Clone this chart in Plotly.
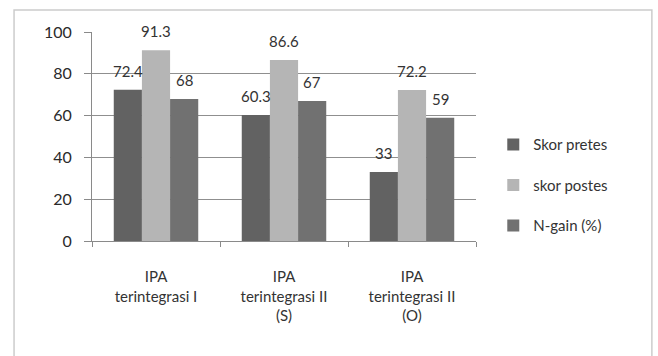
import plotly.graph_objects as go

categories = ["IPA<br>terintegrasi I", "IPA<br>terintegrasi II<br>(S)", "IPA<br>terintegrasi II<br>(O)"]
series_names = ["Skor pretes", "skor postes", "N-gain (%)"]
skor_pretes = [72.4, 60.3, 33]
skor_postes = [91.3, 86.6, 72.2]
n_gain = [68, 67, 59]
label_text = [["72.4", "60.3", "33"], ["91.3", "86.6", "72.2"], ["68", "67", "59"]]
y_ticks = [0, 20, 40, 60, 80, 100]

colors = ["#626262", "#b5b5b5", "#717171"]
series = [skor_pretes, skor_postes, n_gain]
FONT = "Lato"

fig = go.Figure()
for k, (name, vals) in enumerate(zip(series_names, series)):
    fig.add_trace(go.Bar(
        x=categories, y=vals, name=name,
        marker=dict(color=colors[k], line=dict(width=0)),
        legendgroup=name,
    ))

bargap = 0.34
bw = (1 - bargap) / 3
annotations = []
for k in range(3):
    off = (k - 1) * bw
    for i, v in enumerate(series[k]):
        annotations.append(dict(
            x=i + off, y=v, xref="x", yref="y", text=label_text[k][i],
            showarrow=False, yshift=19, font=dict(family=FONT, size=15, color="#333333"),
        ))

fig.update_layout(
    width=658, height=356,
    margin=dict(l=92, r=182, t=32, b=115),
    paper_bgcolor="white", plot_bgcolor="white",
    barmode="group", bargap=bargap, bargroupgap=0,
    font=dict(family=FONT, size=15, color="#333333"),
    showlegend=True,
    legend=dict(x=1.045, xanchor="left", y=0.54, yanchor="top",
                font=dict(family=FONT, size=15, color="#333333"),
                tracegroupgap=18, itemwidth=30, bgcolor="rgba(0,0,0,0)"),
    annotations=annotations,
    shapes=[dict(type="rect", xref="paper", yref="paper",
                 x0=-0.203, x1=1.458, y0=-0.65, y1=1.105,
                 line=dict(color="#cccccc", width=1.5))],
)
fig.update_xaxes(
    showline=True, linecolor="#8a8a8a", linewidth=1,
    ticks="outside", tickson="boundaries", ticklen=5, tickcolor="#8a8a8a",
    tickfont=dict(family=FONT, size=15, color="#333333"),
    ticklabelstandoff=22,
)
fig.update_yaxes(
    range=[0, 100], tickvals=y_ticks,
    showgrid=True, gridcolor="#8f8f8f", gridwidth=1,
    showline=True, linecolor="#8a8a8a", linewidth=1,
    ticks="outside", ticklen=7, tickcolor="#8a8a8a",
    tickfont=dict(family=FONT, size=16, color="#2a2a2a"),
    ticklabelstandoff=9, zeroline=False,
)

fig.write_html("out.html", config={"displayModeBar": False},
               post_script="document.body.style.margin='0';document.body.style.padding='0';")
